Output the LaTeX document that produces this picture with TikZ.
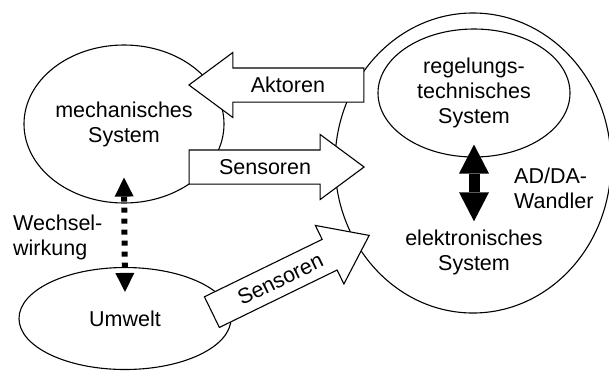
\documentclass[tikz,border=0pt]{standalone}
\usepackage{fontspec}
\setmainfont{Liberation Sans}
\usetikzlibrary{arrows.meta, shapes.geometric, shapes.arrows}

\begin{document}
\begin{tikzpicture}[
    x=1pt, y=-1pt,
    every node/.style={font=\fontsize{21.5}{25}\selectfont},
    system/.style={ellipse, draw, line width=1.1pt, inner sep=0pt, align=center},
    txt/.style={inner sep=0pt},
    blockarrow/.style={single arrow, draw, fill=white, line width=1.1pt,
        minimum height=175pt, single arrow head extend=15.5pt,
        single arrow tip angle=73, text height=15.5pt, text depth=0pt,
        inner ysep=8.75pt, inner xsep=4pt},
    wechsel/.style={line width=6pt, dash pattern=on 5pt off 6pt,
        {Triangle[width=19pt, length=19pt, line width=0pt]}-{Triangle[width=19pt, length=19pt, line width=0pt]}},
    wandler/.style={line width=11pt,
        {Triangle[width=30pt, length=29pt, line width=0pt]}-{Triangle[width=30pt, length=29pt, line width=0pt]}}
]
\useasboundingbox (0,0) rectangle (609,370);

% Systeme
\node[system, minimum width=276pt, minimum height=300pt] (elek) at (473,163) {};
\node[system, minimum width=192pt, minimum height=128pt] (regel) at (474,93) {regelungs-\\technisches\\System};
\node[txt, align=center] (elektext) at (474,252) {elektronisches\\System};
\node[system, minimum width=200pt, minimum height=158pt] (mech) at (124,124) {mechanisches\\System};
\node[system, minimum width=212pt, minimum height=102pt] (umwelt) at (125,318.5) {Umwelt};

% Aktoren und Sensoren
\node[blockarrow, shape border rotate=180, anchor=tip] (aktoren) at (188,85) {Aktoren};
\node[blockarrow, anchor=tip] (sensmech) at (365,167) {Sensoren};
\node[blockarrow, rotate=26, anchor=tip] (sensumwelt) at (370,235) {Sensoren};

% Wechselwirkung
\draw[wechsel] ([yshift=26pt]mech.south) -- ([yshift=-25pt]umwelt.north);
\node[txt, align=left, anchor=west] (wechseltext) at (13,237) {Wechsel-\\wirkung};

% AD/DA-Wandler
\draw[wandler] ([yshift=13pt]regel.south) -- ([yshift=8pt]elektext.north);
\node[txt, align=left, anchor=west] (wandlertext) at (514,188) {AD/DA-\\Wandler};

\end{tikzpicture}
\end{document}
